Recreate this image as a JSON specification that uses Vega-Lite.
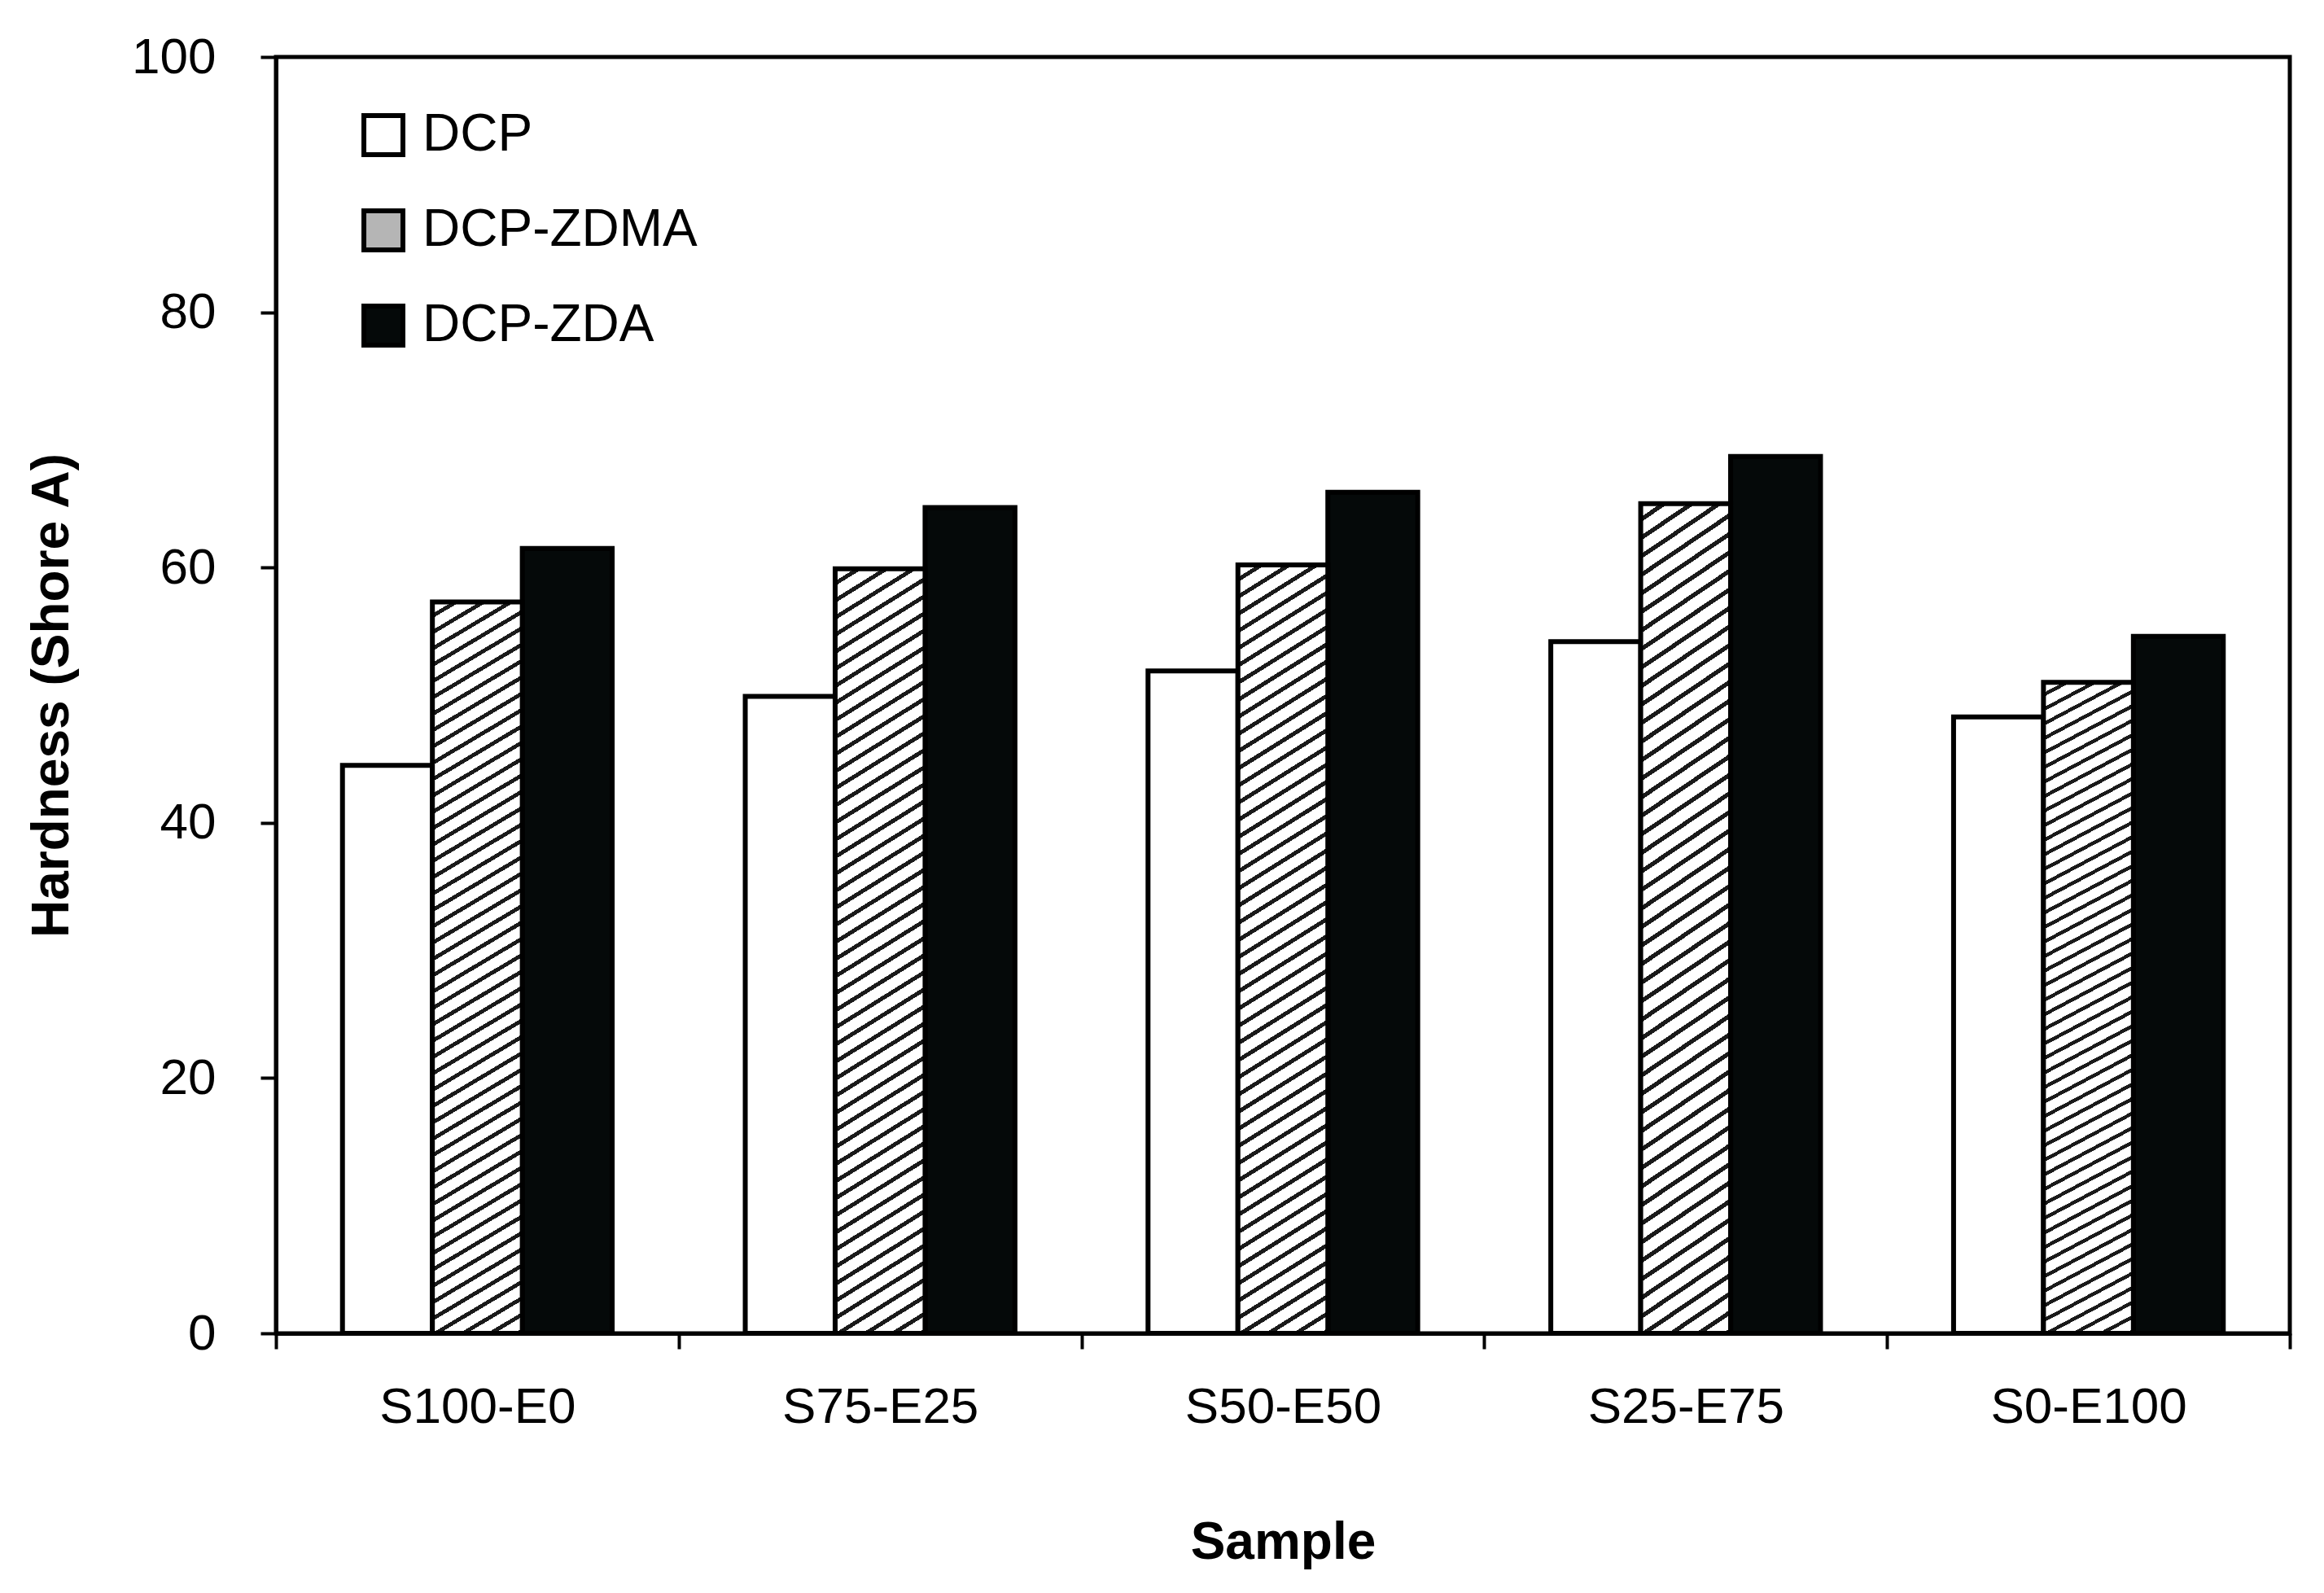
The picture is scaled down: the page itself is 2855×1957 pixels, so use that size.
{
"$schema":"https://vega.github.io/schema/vega-lite/v6.json",
"width":2474,"height":1568,"autosize":{"type":"none"},
"padding":{"left":339,"top":70,"right":42,"bottom":319},
"background":"white",
"config":{"font":"Liberation Sans","view":{"stroke":"black","strokeWidth":5},
"axis":{"domainColor":"black","domainWidth":5,"tickColor":"black","tickWidth":4,"tickSize":19,"labelColor":"black","titleColor":"black","labelFont":"Liberation Sans","titleFont":"Liberation Sans","labelFontSize":62,"titleFontSize":64,"titleFontWeight":"bold","grid":false,"labelLimit":600}},
"data":{"values":[
{"sample":"S100-E0","system":"DCP","hardness":44.5},
{"sample":"S100-E0","system":"DCP-ZDMA","hardness":57.3},
{"sample":"S100-E0","system":"DCP-ZDA","hardness":61.5},
{"sample":"S75-E25","system":"DCP","hardness":49.9},
{"sample":"S75-E25","system":"DCP-ZDMA","hardness":59.9},
{"sample":"S75-E25","system":"DCP-ZDA","hardness":64.7},
{"sample":"S50-E50","system":"DCP","hardness":51.9},
{"sample":"S50-E50","system":"DCP-ZDMA","hardness":60.2},
{"sample":"S50-E50","system":"DCP-ZDA","hardness":65.9},
{"sample":"S25-E75","system":"DCP","hardness":54.2},
{"sample":"S25-E75","system":"DCP-ZDMA","hardness":65.0},
{"sample":"S25-E75","system":"DCP-ZDA","hardness":68.7},
{"sample":"S0-E100","system":"DCP","hardness":48.3},
{"sample":"S0-E100","system":"DCP-ZDMA","hardness":51.0},
{"sample":"S0-E100","system":"DCP-ZDA","hardness":54.6}
]},
"encoding":{
"x":{"field":"sample","type":"nominal","sort":["S100-E0","S75-E25","S50-E50","S25-E75","S0-E100"],"scale":{"paddingInner":0,"paddingOuter":0},
"axis":{"title":"Sample","tickBand":"extent","labelAngle":0,"labelPadding":41,"titlePadding":104}},
"xOffset":{"field":"system","type":"nominal","scale":{"domain":["DCP","DCP-ZDMA","DCP-ZDA"],"paddingInner":0,"paddingOuter":0.74}},
"y":{"field":"hardness","type":"quantitative","scale":{"domain":[0,100]},
"axis":{"title":"Hardness (Shore A)","values":[0,20,40,60,80,100],"labelPadding":55,"titlePadding":65}}
},
"layer":[
{"transform":[{"filter":"datum.system !== 'DCP-ZDMA'"}],
"mark":{"type":"bar","stroke":"black","strokeWidth":6},
"encoding":{"fill":{"field":"system","type":"nominal","scale":{"domain":["DCP","DCP-ZDMA","DCP-ZDA"],"range":["#ffffff","#b5b5b5","#050909"]},
"legend":{"title":null,"orient":"none","legendX":100,"legendY":64,"symbolType":"square","symbolSize":2300,"symbolStrokeColor":"black","symbolStrokeWidth":6,"symbolOpacity":1,"labelFontSize":64,"labelFont":"Liberation Sans","labelColor":"black","labelOffset":16,"labelLimit":800,"rowPadding":45}}}},
{"transform":[{"filter":"datum.system === 'DCP-ZDMA'"}],
"mark":{"type":"bar","stroke":"black","strokeWidth":6,
"fill":{"gradient":"linear","x1":0,"y1":0,"x2":0.078,"y2":1.067,"stops":[
{"offset":0,"color":"#fff"},{"offset":0.015,"color":"#fff"},{"offset":0.015,"color":"#1a1a1a"},{"offset":0.02083,"color":"#1a1a1a"},
{"offset":0.02083,"color":"#fff"},{"offset":0.03583,"color":"#fff"},{"offset":0.03583,"color":"#1a1a1a"},{"offset":0.04167,"color":"#1a1a1a"},
{"offset":0.04167,"color":"#fff"},{"offset":0.05667,"color":"#fff"},{"offset":0.05667,"color":"#1a1a1a"},{"offset":0.0625,"color":"#1a1a1a"},
{"offset":0.0625,"color":"#fff"},{"offset":0.0775,"color":"#fff"},{"offset":0.0775,"color":"#1a1a1a"},{"offset":0.08333,"color":"#1a1a1a"},
{"offset":0.08333,"color":"#fff"},{"offset":0.09833,"color":"#fff"},{"offset":0.09833,"color":"#1a1a1a"},{"offset":0.10417,"color":"#1a1a1a"},
{"offset":0.10417,"color":"#fff"},{"offset":0.11917,"color":"#fff"},{"offset":0.11917,"color":"#1a1a1a"},{"offset":0.125,"color":"#1a1a1a"},
{"offset":0.125,"color":"#fff"},{"offset":0.14,"color":"#fff"},{"offset":0.14,"color":"#1a1a1a"},{"offset":0.14583,"color":"#1a1a1a"},
{"offset":0.14583,"color":"#fff"},{"offset":0.16083,"color":"#fff"},{"offset":0.16083,"color":"#1a1a1a"},{"offset":0.16667,"color":"#1a1a1a"},
{"offset":0.16667,"color":"#fff"},{"offset":0.18167,"color":"#fff"},{"offset":0.18167,"color":"#1a1a1a"},{"offset":0.1875,"color":"#1a1a1a"},
{"offset":0.1875,"color":"#fff"},{"offset":0.2025,"color":"#fff"},{"offset":0.2025,"color":"#1a1a1a"},{"offset":0.20833,"color":"#1a1a1a"},
{"offset":0.20833,"color":"#fff"},{"offset":0.22333,"color":"#fff"},{"offset":0.22333,"color":"#1a1a1a"},{"offset":0.22917,"color":"#1a1a1a"},
{"offset":0.22917,"color":"#fff"},{"offset":0.24417,"color":"#fff"},{"offset":0.24417,"color":"#1a1a1a"},{"offset":0.25,"color":"#1a1a1a"},
{"offset":0.25,"color":"#fff"},{"offset":0.265,"color":"#fff"},{"offset":0.265,"color":"#1a1a1a"},{"offset":0.27083,"color":"#1a1a1a"},
{"offset":0.27083,"color":"#fff"},{"offset":0.28583,"color":"#fff"},{"offset":0.28583,"color":"#1a1a1a"},{"offset":0.29167,"color":"#1a1a1a"},
{"offset":0.29167,"color":"#fff"},{"offset":0.30667,"color":"#fff"},{"offset":0.30667,"color":"#1a1a1a"},{"offset":0.3125,"color":"#1a1a1a"},
{"offset":0.3125,"color":"#fff"},{"offset":0.3275,"color":"#fff"},{"offset":0.3275,"color":"#1a1a1a"},{"offset":0.33333,"color":"#1a1a1a"},
{"offset":0.33333,"color":"#fff"},{"offset":0.34833,"color":"#fff"},{"offset":0.34833,"color":"#1a1a1a"},{"offset":0.35417,"color":"#1a1a1a"},
{"offset":0.35417,"color":"#fff"},{"offset":0.36917,"color":"#fff"},{"offset":0.36917,"color":"#1a1a1a"},{"offset":0.375,"color":"#1a1a1a"},
{"offset":0.375,"color":"#fff"},{"offset":0.39,"color":"#fff"},{"offset":0.39,"color":"#1a1a1a"},{"offset":0.39583,"color":"#1a1a1a"},
{"offset":0.39583,"color":"#fff"},{"offset":0.41083,"color":"#fff"},{"offset":0.41083,"color":"#1a1a1a"},{"offset":0.41667,"color":"#1a1a1a"},
{"offset":0.41667,"color":"#fff"},{"offset":0.43167,"color":"#fff"},{"offset":0.43167,"color":"#1a1a1a"},{"offset":0.4375,"color":"#1a1a1a"},
{"offset":0.4375,"color":"#fff"},{"offset":0.4525,"color":"#fff"},{"offset":0.4525,"color":"#1a1a1a"},{"offset":0.45833,"color":"#1a1a1a"},
{"offset":0.45833,"color":"#fff"},{"offset":0.47333,"color":"#fff"},{"offset":0.47333,"color":"#1a1a1a"},{"offset":0.47917,"color":"#1a1a1a"},
{"offset":0.47917,"color":"#fff"},{"offset":0.49417,"color":"#fff"},{"offset":0.49417,"color":"#1a1a1a"},{"offset":0.5,"color":"#1a1a1a"},
{"offset":0.5,"color":"#fff"},{"offset":0.515,"color":"#fff"},{"offset":0.515,"color":"#1a1a1a"},{"offset":0.52083,"color":"#1a1a1a"},
{"offset":0.52083,"color":"#fff"},{"offset":0.53583,"color":"#fff"},{"offset":0.53583,"color":"#1a1a1a"},{"offset":0.54167,"color":"#1a1a1a"},
{"offset":0.54167,"color":"#fff"},{"offset":0.55667,"color":"#fff"},{"offset":0.55667,"color":"#1a1a1a"},{"offset":0.5625,"color":"#1a1a1a"},
{"offset":0.5625,"color":"#fff"},{"offset":0.5775,"color":"#fff"},{"offset":0.5775,"color":"#1a1a1a"},{"offset":0.58333,"color":"#1a1a1a"},
{"offset":0.58333,"color":"#fff"},{"offset":0.59833,"color":"#fff"},{"offset":0.59833,"color":"#1a1a1a"},{"offset":0.60417,"color":"#1a1a1a"},
{"offset":0.60417,"color":"#fff"},{"offset":0.61917,"color":"#fff"},{"offset":0.61917,"color":"#1a1a1a"},{"offset":0.625,"color":"#1a1a1a"},
{"offset":0.625,"color":"#fff"},{"offset":0.64,"color":"#fff"},{"offset":0.64,"color":"#1a1a1a"},{"offset":0.64583,"color":"#1a1a1a"},
{"offset":0.64583,"color":"#fff"},{"offset":0.66083,"color":"#fff"},{"offset":0.66083,"color":"#1a1a1a"},{"offset":0.66667,"color":"#1a1a1a"},
{"offset":0.66667,"color":"#fff"},{"offset":0.68167,"color":"#fff"},{"offset":0.68167,"color":"#1a1a1a"},{"offset":0.6875,"color":"#1a1a1a"},
{"offset":0.6875,"color":"#fff"},{"offset":0.7025,"color":"#fff"},{"offset":0.7025,"color":"#1a1a1a"},{"offset":0.70833,"color":"#1a1a1a"},
{"offset":0.70833,"color":"#fff"},{"offset":0.72333,"color":"#fff"},{"offset":0.72333,"color":"#1a1a1a"},{"offset":0.72917,"color":"#1a1a1a"},
{"offset":0.72917,"color":"#fff"},{"offset":0.74417,"color":"#fff"},{"offset":0.74417,"color":"#1a1a1a"},{"offset":0.75,"color":"#1a1a1a"},
{"offset":0.75,"color":"#fff"},{"offset":0.765,"color":"#fff"},{"offset":0.765,"color":"#1a1a1a"},{"offset":0.77083,"color":"#1a1a1a"},
{"offset":0.77083,"color":"#fff"},{"offset":0.78583,"color":"#fff"},{"offset":0.78583,"color":"#1a1a1a"},{"offset":0.79167,"color":"#1a1a1a"},
{"offset":0.79167,"color":"#fff"},{"offset":0.80667,"color":"#fff"},{"offset":0.80667,"color":"#1a1a1a"},{"offset":0.8125,"color":"#1a1a1a"},
{"offset":0.8125,"color":"#fff"},{"offset":0.8275,"color":"#fff"},{"offset":0.8275,"color":"#1a1a1a"},{"offset":0.83333,"color":"#1a1a1a"},
{"offset":0.83333,"color":"#fff"},{"offset":0.84833,"color":"#fff"},{"offset":0.84833,"color":"#1a1a1a"},{"offset":0.85417,"color":"#1a1a1a"},
{"offset":0.85417,"color":"#fff"},{"offset":0.86917,"color":"#fff"},{"offset":0.86917,"color":"#1a1a1a"},{"offset":0.875,"color":"#1a1a1a"},
{"offset":0.875,"color":"#fff"},{"offset":0.89,"color":"#fff"},{"offset":0.89,"color":"#1a1a1a"},{"offset":0.89583,"color":"#1a1a1a"},
{"offset":0.89583,"color":"#fff"},{"offset":0.91083,"color":"#fff"},{"offset":0.91083,"color":"#1a1a1a"},{"offset":0.91667,"color":"#1a1a1a"},
{"offset":0.91667,"color":"#fff"},{"offset":0.93167,"color":"#fff"},{"offset":0.93167,"color":"#1a1a1a"},{"offset":0.9375,"color":"#1a1a1a"},
{"offset":0.9375,"color":"#fff"},{"offset":0.9525,"color":"#fff"},{"offset":0.9525,"color":"#1a1a1a"},{"offset":0.95833,"color":"#1a1a1a"},
{"offset":0.95833,"color":"#fff"},{"offset":0.97333,"color":"#fff"},{"offset":0.97333,"color":"#1a1a1a"},{"offset":0.97917,"color":"#1a1a1a"},
{"offset":0.97917,"color":"#fff"},{"offset":0.99417,"color":"#fff"},{"offset":0.99417,"color":"#1a1a1a"},{"offset":1,"color":"#1a1a1a"}
]}}}
]
}
